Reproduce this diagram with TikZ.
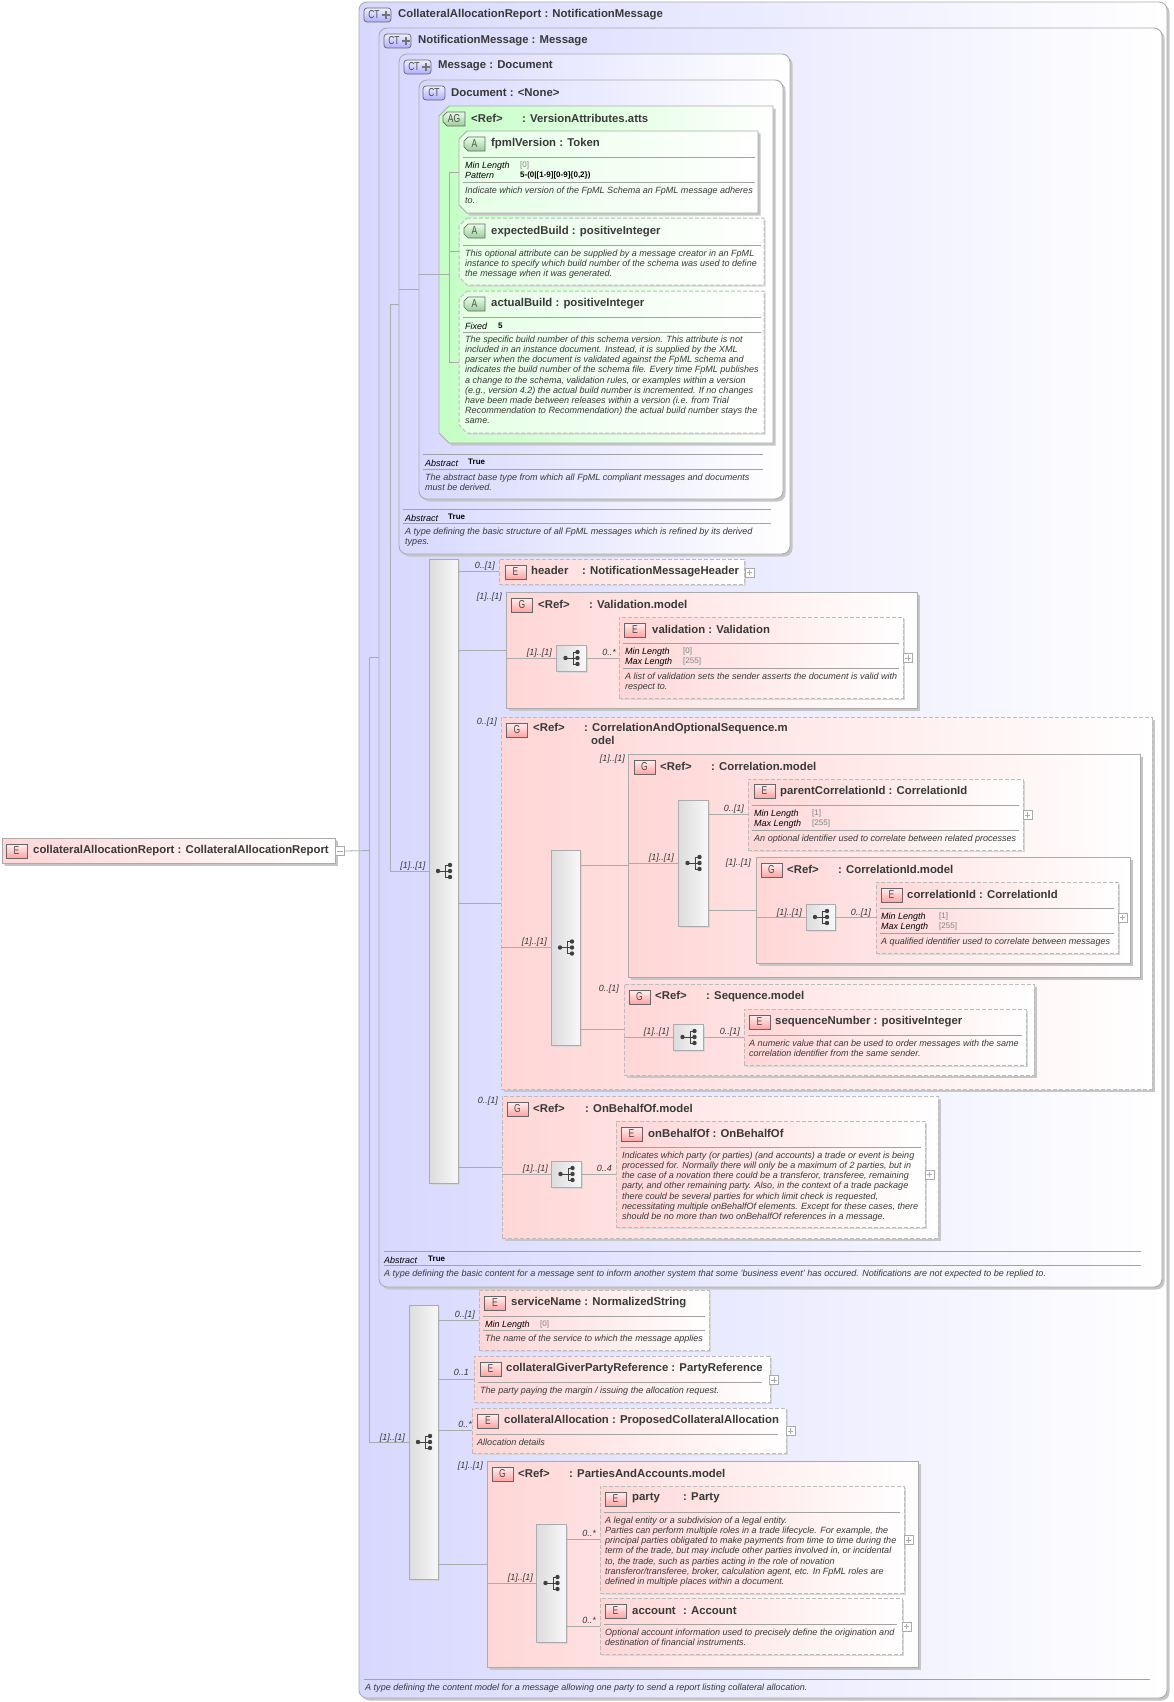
\documentclass[tikz,border=0pt]{standalone}
\usepackage{fontspec}
\setmainfont{Liberation Sans}
\newfontfamily\iconfont[FakeStretch=0.74]{Liberation Sans}
\usetikzlibrary{shadows,calc}

\definecolor{ctL}{HTML}{D8D8FF}
\definecolor{agL}{HTML}{C4FFC4}
\definecolor{elL}{HTML}{FFD6D6}
\definecolor{barL}{HTML}{DCDCDC}
\definecolor{edge}{HTML}{ABABAB}
\definecolor{shade}{HTML}{C6C6C6}
\definecolor{ink}{HTML}{383838}

\tikzset{
	solidshadow/.style={general shadow={fill=shade, shadow xshift=2.5pt, shadow yshift=-2.5pt}},
	softshadow/.style={general shadow={fill=shade!70, shadow xshift=1.5pt, shadow yshift=-1.5pt}},
	base/.style={draw=edge, line width=0.9pt},
	ctbox/.style={base, inner sep=0pt, outer sep=0pt, rectangle, rounded corners=8pt, left color=ctL, right color=white, solidshadow},
	agbox/.style={base, left color=agL, right color=white, solidshadow},
	abox/.style={base, left color=agL!45, right color=white, softshadow},
	grpbox/.style={base, inner sep=0pt, outer sep=0pt, rectangle, left color=elL, right color=white, solidshadow},
	elbox/.style={base, inner sep=0pt, outer sep=0pt, rectangle, left color=elL, right color=white, softshadow},
	optional/.style={draw=edge!80, line width=1pt, dash pattern=on 4pt off 2pt},
	barbox/.style={base, inner sep=0pt, outer sep=0pt, rectangle, left color=barL, right color=white!97!black, softshadow},
	conn/.style={draw=edge, line width=0.8pt},
	rule/.style={draw=edge!95!black, line width=0.8pt},
	icon/.style={inner sep=0pt, outer sep=0pt, draw=black!60, line width=0.7pt, minimum height=14pt, text=black!70, font=\fontsize{11.5}{12}\iconfont},
	iconE/.style={icon, rectangle, minimum width=21pt, top color=elL!35, bottom color=red!36},
	iconCT/.style={icon, rectangle, rounded corners=3pt, minimum width=#1, top color=ctL!40, bottom color=blue!32},
	iconA/.style={draw=black!60, line width=0.7pt, top color=agL!40, bottom color=green!50!black!40},
	ttl/.style={anchor=west, inner sep=0pt, yshift=-1.2pt, text=ink, font=\fontsize{11.35}{13}\selectfont\bfseries},
	dsc/.style={anchor=north west, inner sep=0pt, yshift=-1.7pt, align=left, text=ink, font=\fontsize{9.03}{10.15}\selectfont\itshape},
	prop/.style={anchor=west, inner sep=0pt, yshift=-0.8pt, text=black, font=\fontsize{9}{10}\selectfont\itshape},
	valgray/.style={anchor=west, inner sep=0pt, yshift=-0.8pt, text=black!50, font=\fontsize{8}{10}\selectfont},
	valbold/.style={anchor=west, inner sep=0pt, yshift=-0.8pt, text=black, font=\fontsize{8}{10}\selectfont\bfseries},
	card/.style={anchor=east, inner sep=0pt, yshift=-0.8pt, text=ink, font=\fontsize{9}{10}\selectfont\itshape},
	plusbox/.style={inner sep=0pt, outer sep=0pt, rectangle, draw=edge, fill=white, line width=0.7pt, minimum size=9pt},
	seqmark/.pic={
		\draw[black!75, line width=1pt] (-5.5,0) -- (2,0) (6.5,-6) -- (2,-6) -- (2,6) -- (6.5,6) (2,0) -- (6.5,0);
		\fill[black!75] (-5.5,0) circle (2.2) (6.5,-6) circle (2.2) (6.5,0) circle (2.2) (6.5,6) circle (2.2);
	},
}

\newcommand{\schemabox}[6]{\node[#1, minimum width={#5pt-#3pt}, minimum height={#6pt-#4pt}] (#2) at ({(#3+#5)/2},{(#4+#6)/2}) {};}
\newcommand{\chamferbox}[8]{\draw[#1] ({#3+#7},#4) -- (#5,#4) -- (#5,#6) -- ({#3+#7},#6) -- (#3,{#6-#7}) -- (#3,{#4+#7}) -- cycle;
	\node[inner sep=0pt, outer sep=0pt, minimum width={#5pt-#3pt}, minimum height={#6pt-#4pt}, text=black!70, font=\fontsize{11.5}{12}\iconfont] (#2) at ({(#3+#5)/2},{(#4+#6)/2}) {#8};}
\newcommand{\expander}[3]{\node[plusbox] (#1) at (#2,#3) {}; \draw[edge, line width=0.7pt] ($(#1.center)+(-2.6,0)$) -- ($(#1.center)+(2.6,0)$) ($(#1.center)+(0,-2.6)$) -- ($(#1.center)+(0,2.6)$);}
\newcommand{\ctplus}[1]{\draw[black!55, line width=2pt] ($(#1.center)+(8.5,-3.8)$) -- ($(#1.center)+(8.5,3.8)$) ($(#1.center)+(4.7,0)$) -- ($(#1.center)+(12.3,0)$);}

\begin{document}
\begin{tikzpicture}[x=1pt,y=-1pt]
	\useasboundingbox (0,0) rectangle (1173,1702);

	\schemabox{elbox,solidshadow}{root}{2}{838}{335}{863}
	\node[iconE] (rooticon) at (16.5,851) {E};
	\node[ttl] (roottitle) at (33,849.5) {collateralAllocationReport : CollateralAllocationReport};
	\node[plusbox] (rootminus) at (340,851) {};
	\draw[edge, line width=0.7pt] ($(rootminus.center)+(-2.6,0)$) -- ($(rootminus.center)+(2.6,0)$);

	\schemabox{ctbox}{rpt}{359}{2}{1167}{1698}
	\node[iconCT=27pt, anchor=center] (rpticon) at (377.5,15) {\hspace*{-7pt}CT};
	\ctplus{rpticon}
	\node[ttl] (rpttitle) at (398,13) {CollateralAllocationReport : NotificationMessage};

	\schemabox{ctbox}{notif}{379}{28}{1162}{1287}
	\node[iconCT=27pt] (notificon) at (397.5,41) {\hspace*{-7pt}CT};
	\ctplus{notificon}
	\node[ttl] (notiftitle) at (418,39) {NotificationMessage : Message};

	\schemabox{ctbox}{msg}{399}{54}{790}{554}
	\node[iconCT=27pt] (msgicon) at (417.5,67) {\hspace*{-7pt}CT};
	\ctplus{msgicon}
	\node[ttl] (msgtitle) at (438,65) {Message : Document};

	\schemabox{ctbox}{doc}{419}{80}{783}{499}
	\node[iconCT=22pt] (docicon) at (434,93) {CT};
	\node[ttl] (doctitle) at (451,91) {Document : <None>};

	\chamferbox{agbox}{ag}{439}{106}{773}{443}{10}{}
	\chamferbox{iconA}{agicon}{443}{112}{465}{126}{4}{AG}
	\node[ttl] (agtitle) at (471,117) {\makebox[51pt][l]{<Ref>}: VersionAttributes.atts};

	\chamferbox{abox,solidshadow}{fpml}{459}{131}{758}{213}{8}{}
	\chamferbox{iconA}{fpmlicon}{464}{137}{485}{151}{4}{A}
	\node[ttl] (fpmltitle) at (491,142) {fpmlVersion : Token};
	\draw[rule] (463,157) -- (755,157);
	\node[prop] (fpmlp1) at (465,165) {Min Length};
	\node[valgray] (fpmlv1) at (520,165) {[0]};
	\node[prop] (fpmlp2) at (465,175) {Pattern};
	\node[valbold] (fpmlv2) at (520,175) {5-(0|[1-9][0-9]\{0,2\})};
	\draw[rule] (463,182) -- (755,182);
	\node[dsc] (fpmldsc) at (465,185) {Indicate which version of the FpML Schema an FpML message adheres\\to.};

	\chamferbox{abox,optional}{expb}{459}{218}{764}{285}{8}{}
	\chamferbox{iconA}{expbicon}{464}{224}{485}{238}{4}{A}
	\node[ttl] (expbtitle) at (491,230) {expectedBuild : positiveInteger};
	\draw[rule] (463,245) -- (761,245);
	\node[dsc] (expbdsc) at (465,248) {This optional attribute can be supplied by a message creator in an FpML\\instance to specify which build number of the schema was used to define\\the message when it was generated.};

	\chamferbox{abox,optional}{actb}{459}{291}{764}{433}{8}{}
	\chamferbox{iconA}{actbicon}{464}{297}{485}{311}{4}{A}
	\node[ttl] (actbtitle) at (491,302) {actualBuild : positiveInteger};
	\draw[rule] (463,317) -- (761,317);
	\node[prop] (actbp1) at (465,325) {Fixed};
	\node[valbold] (actbv1) at (498,324.5) {5};
	\draw[rule] (463,332) -- (761,332);
	\node[dsc] (actbdsc) at (465,334) {The specific build number of this schema version. This attribute is not\\included in an instance document. Instead, it is supplied by the XML\\parser when the document is validated against the FpML schema and\\indicates the build number of the schema file. Every time FpML publishes\\a change to the schema, validation rules, or examples within a version\\(e.g., version 4.2) the actual build number is incremented. If no changes\\have been made between releases within a version (i.e. from Trial\\Recommendation to Recommendation) the actual build number stays the\\same.};

	\draw[rule] (423,454) -- (763,454);
	\node[prop] (docp1) at (425,462) {Abstract};
	\node[valbold] (docv1) at (468,461) {True};
	\draw[rule] (423,469) -- (763,469);
	\node[dsc] (docdsc) at (425,472) {The abstract base type from which all FpML compliant messages and documents\\must be derived.};

	\draw[rule] (403,509) -- (771,509);
	\node[prop] (msgp1) at (405,517) {Abstract};
	\node[valbold] (msgv1) at (448,516) {True};
	\draw[rule] (403,523) -- (771,523);
	\node[dsc] (msgdsc) at (405,526) {A type defining the basic structure of all FpML messages which is refined by its derived\\types.};

	\draw[conn] (msg.west |- doc.west) -- (doc.west);
	\draw[conn] (doc.west |- ag.west) -- (ag.west);
	\coordinate (agj) at (449,274);
	\draw[conn] (ag.west) -- (agj |- ag.west);
	\draw[conn] (fpml.west) -- (agj |- fpml.west) -- (agj |- actb.west) -- (actb.west);
	\draw[conn] (agj |- expb.west) -- (expb.west);

	\schemabox{barbox}{bartwo}{429}{559}{458}{1183}
	\pic at (bartwo.center) {seqmark};
	\coordinate (notifj) at (390,304);
	\draw[conn] (msg.west) -- (notifj) -- (notifj |- bartwo.west) -- (bartwo.west);
	\node[card] (cardbartwo) at (425.5,865) {[1]..[1]};

	\schemabox{elbox,optional}{header}{499}{559}{744}{584}
	\node[iconE] (headericon) at (515.5,572) {E};
	\node[ttl] (headertitle) at (531,570) {\makebox[51pt][l]{header}: NotificationMessageHeader};
	\expander{headerplus}{749.5}{572.5}
	\draw[conn] (bartwo.east |- header.west) -- (header.west);
	\node[card] (cardheader) at (495,565) {0..[1]};

	\schemabox{grpbox}{valgroup}{506}{592}{917}{708}
	\node[iconE] (valgroupicon) at (522,605) {G};
	\node[ttl] (valgrouptitle) at (538,603) {\makebox[51pt][l]{<Ref>}: Validation.model};
	\draw[conn] (bartwo.east |- valgroup.west) -- (valgroup.west);
	\node[card] (cardvalgroup) at (502,596) {[1]..[1]};
	\schemabox{barbox}{barval}{556}{645}{586}{671}
	\pic at (barval.center) {seqmark};
	\draw[conn] (valgroup.west |- barval.west) -- (barval.west);
	\node[card] (cardbarval) at (552,652) {[1]..[1]};
	\schemabox{elbox,optional}{validation}{619}{617}{903}{698}
	\node[iconE] (validationicon) at (635,630) {E};
	\node[ttl] (validationtitle) at (652,628) {validation : Validation};
	\draw[rule] (623,643) -- (899,643);
	\node[prop] (validationp1) at (625,651) {Min Length};
	\node[valgray] (validationv1) at (683,650.5) {[0]};
	\node[prop] (validationp2) at (625,661) {Max Length};
	\node[valgray] (validationv2) at (683,660.5) {[255]};
	\draw[rule] (623,668) -- (899,668);
	\node[dsc] (validationdsc) at (625,671) {A list of validation sets the sender asserts the document is valid with\\respect to.};
	\draw[conn] (barval.east) -- (barval.east -| validation.west);
	\node[card] (cardvalidation) at (616,652) {0..*};
	\expander{validationplus}{908}{658}

	\schemabox{grpbox,optional}{coropt}{501}{717}{1152}{1089}
	\node[iconE] (coropticon) at (517,730) {G};
	\node[ttl, anchor=north west, align=left] (corrtitle) at (533,722) {\makebox[51pt][l]{<Ref>}: CorrelationAndOptionalSequence.m\\\hspace*{58pt}odel};
	\draw[conn] (bartwo.east |- coropt.west) -- (coropt.west);
	\node[card] (cardcoropt) at (497,721) {0..[1]};
	\schemabox{barbox}{barcor}{551}{850}{580}{1045}
	\pic at (barcor.center) {seqmark};
	\draw[conn] (coropt.west |- barcor.west) -- (barcor.west);
	\node[card] (cardbarcor) at (547,941) {[1]..[1]};

	\schemabox{grpbox}{corgroup}{628}{754}{1140}{977}
	\node[iconE] (corgroupicon) at (644.5,767) {G};
	\node[ttl] (corgrouptitle) at (660,765) {\makebox[51pt][l]{<Ref>}: Correlation.model};
	\draw[conn] (barcor.east |- corgroup.west) -- (corgroup.west);
	\node[card] (cardcorgroup) at (625,758) {[1]..[1]};
	\schemabox{barbox}{barpar}{678}{800}{708}{926}
	\pic at (barpar.center) {seqmark};
	\draw[conn] (corgroup.west |- barpar.west) -- (barpar.west);
	\node[card] (cardbarpar) at (674,857) {[1]..[1]};

	\schemabox{elbox,optional}{parent}{748}{779}{1023}{850}
	\node[iconE] (parenticon) at (764.5,791) {E};
	\node[ttl] (parenttitle) at (780,790) {parentCorrelationId : CorrelationId};
	\draw[rule] (752,805) -- (1019,805);
	\node[prop] (parentp1) at (754,813) {Min Length};
	\node[valgray] (parentv1) at (812,812.5) {[1]};
	\node[prop] (parentp2) at (754,823) {Max Length};
	\node[valgray] (parentv2) at (812,822.5) {[255]};
	\draw[rule] (752,830) -- (1019,830);
	\node[dsc] (parentdsc) at (754,833) {An optional identifier used to correlate between related processes};
	\draw[conn] (barpar.east |- parent.west) -- (parent.west);
	\node[card] (cardparent) at (744,808) {0..[1]};
	\expander{parentplus}{1027.5}{815}

	\schemabox{grpbox}{cidgroup}{756}{857}{1130}{963}
	\node[iconE] (cidgroupicon) at (771.5,870) {G};
	\node[ttl] (cidgrouptitle) at (787,868) {\makebox[51pt][l]{<Ref>}: CorrelationId.model};
	\draw[conn] (barpar.east |- cidgroup.west) -- (cidgroup.west);
	\node[card] (cardcidgroup) at (751,862) {[1]..[1]};
	\schemabox{barbox}{barcid}{806}{904}{835}{930}
	\pic at (barcid.center) {seqmark};
	\draw[conn] (cidgroup.west |- barcid.west) -- (barcid.west);
	\node[card] (cardbarcid) at (802,912) {[1]..[1]};
	\schemabox{elbox,optional}{corrid}{876}{882}{1118}{953}
	\node[iconE] (corridicon) at (891.5,895) {E};
	\node[ttl] (corridtitle) at (907,893) {correlationId : CorrelationId};
	\draw[rule] (880,908) -- (1114,908);
	\node[prop] (corridp1) at (881,916) {Min Length};
	\node[valgray] (corridv1) at (939,915.5) {[1]};
	\node[prop] (corridp2) at (881,926) {Max Length};
	\node[valgray] (corridv2) at (939,925.5) {[255]};
	\draw[rule] (880,933) -- (1114,933);
	\node[dsc] (corriddsc) at (881,936) {A qualified identifier used to correlate between messages};
	\draw[conn] (barcid.east) -- (barcid.east -| corrid.west);
	\node[card] (cardcorrid) at (871,912) {0..[1]};
	\expander{corridplus}{1122.5}{917.5}

	\schemabox{grpbox,optional}{seqgroup}{624}{984}{1034}{1075}
	\node[iconE] (seqgroupicon) at (639.5,997) {G};
	\node[ttl] (seqgrouptitle) at (655,995) {\makebox[51pt][l]{<Ref>}: Sequence.model};
	\draw[conn] (barcor.east |- seqgroup.west) -- (seqgroup.west);
	\node[card] (cardseqgroup) at (619,988) {0..[1]};
	\schemabox{barbox}{barseq}{673}{1024}{703}{1050}
	\pic at (barseq.center) {seqmark};
	\draw[conn] (seqgroup.west |- barseq.west) -- (barseq.west);
	\node[card] (cardbarseq) at (669,1031) {[1]..[1]};
	\schemabox{elbox,optional}{seqnum}{744}{1009}{1026}{1065}
	\node[iconE] (seqnumicon) at (759.5,1022) {E};
	\node[ttl] (seqnumtitle) at (775,1020) {sequenceNumber : positiveInteger};
	\draw[rule] (748,1035) -- (1022,1035);
	\node[dsc] (seqnumdsc) at (749,1038) {A numeric value that can be used to order messages with the same\\correlation identifier from the same sender.};
	\draw[conn] (barseq.east) -- (barseq.east -| seqnum.west);
	\node[card] (cardseqnum) at (740,1031) {0..[1]};

	\schemabox{grpbox,optional}{behgroup}{502}{1096}{938}{1238}
	\node[iconE] (behgroupicon) at (517.5,1109) {G};
	\node[ttl] (behgrouptitle) at (533,1107) {\makebox[52pt][l]{<Ref>}: OnBehalfOf.model};
	\draw[conn] (bartwo.east |- behgroup.west) -- (behgroup.west);
	\node[card] (cardbehgroup) at (498,1100) {0..[1]};
	\schemabox{barbox}{barbeh}{551}{1161}{581}{1187}
	\pic at (barbeh.center) {seqmark};
	\draw[conn] (behgroup.west |- barbeh.west) -- (barbeh.west);
	\node[card] (cardbarbeh) at (548,1168) {[1]..[1]};
	\schemabox{elbox,optional}{behalf}{616}{1121}{925}{1227}
	\node[iconE] (behalficon) at (631.5,1134) {E};
	\node[ttl] (behalftitle) at (648,1132) {onBehalfOf : OnBehalfOf};
	\draw[rule] (620,1147) -- (921,1147);
	\node[dsc] (behalfdsc) at (622,1150) {Indicates which party (or parties) (and accounts) a trade or event is being\\processed for. Normally there will only be a maximum of 2 parties, but in\\the case of a novation there could be a transferor, transferee, remaining\\party, and other remaining party. Also, in the context of a trade package\\there could be several parties for which limit check is requested,\\necessitating multiple onBehalfOf elements. Except for these cases, there\\should be no more than two onBehalfOf references in a message.};
	\draw[conn] (barbeh.east) -- (barbeh.east -| behalf.west);
	\node[card] (cardbehalf) at (612,1168) {0..4};
	\expander{behalfplus}{929.5}{1174.5}

	\draw[rule] (384,1251) -- (1141,1251);
	\node[prop] (notifp1) at (384,1259) {Abstract};
	\node[valbold] (notifv1) at (428,1258) {True};
	\draw[rule] (384,1265) -- (1141,1265);
	\node[dsc] (notifdsc) at (384,1268) {A type defining the basic content for a message sent to inform another system that some 'business event' has occured. Notifications are not expected to be replied to.};

	\schemabox{barbox}{barone}{409}{1305}{438}{1579}
	\pic at (barone.center) {seqmark};
	\coordinate (rootj) at (369,850.5);
	\draw[conn] (rootminus.east) -- (rootj);
	\draw[conn] (notif.west) -- (rootj |- notif.west) -- (rootj |- barone.west) -- (barone.west);
	\node[card] (cardbarone) at (405,1437) {[1]..[1]};

	\schemabox{elbox,optional}{service}{479}{1290}{709}{1350}
	\node[iconE] (serviceicon) at (495,1303) {E};
	\node[ttl] (servicetitle) at (511,1301) {serviceName : NormalizedString};
	\draw[rule] (483,1316) -- (705,1316);
	\node[prop] (servicep1) at (485,1324) {Min Length};
	\node[valgray] (servicev1) at (540,1323.5) {[0]};
	\draw[rule] (483,1330) -- (705,1330);
	\node[dsc] (servicedsc) at (485,1333) {The name of the service to which the message applies};
	\draw[conn] (barone.east |- service.west) -- (service.west);
	\node[card] (cardservice) at (475,1314) {0..[1]};

	\schemabox{elbox,optional}{giver}{474}{1356}{770}{1402}
	\node[iconE] (givericon) at (490.5,1369) {E};
	\node[ttl] (givertitle) at (506,1367) {collateralGiverPartyReference : PartyReference};
	\draw[rule] (478,1382) -- (762,1382);
	\node[dsc] (giverdsc) at (480,1385) {The party paying the margin / issuing the allocation request.};
	\draw[conn] (barone.east |- giver.west) -- (giver.west);
	\node[card] (cardgiver) at (469,1372) {0..1};
	\expander{giverplus}{774}{1380}

	\schemabox{elbox,optional}{alloc}{472}{1408}{786}{1453}
	\node[iconE] (allocicon) at (488,1421) {E};
	\node[ttl] (alloctitle) at (504,1419) {collateralAllocation : ProposedCollateralAllocation};
	\draw[rule] (476,1434) -- (778,1434);
	\node[dsc] (allocdsc) at (477,1437) {Allocation details};
	\draw[conn] (barone.east |- alloc.west) -- (alloc.west);
	\node[card] (cardalloc) at (472,1424) {0..*};
	\expander{allocplus}{790.5}{1431}

	\schemabox{grpbox}{pargroup}{487}{1461}{918}{1667}
	\node[iconE] (pargroupicon) at (502.5,1474) {G};
	\node[ttl] (pargrouptitle) at (518,1472) {\makebox[51pt][l]{<Ref>}: PartiesAndAccounts.model};
	\draw[conn] (barone.east |- pargroup.west) -- (pargroup.west);
	\node[card] (cardpargroup) at (483,1465) {[1]..[1]};
	\schemabox{barbox}{barpar2}{536}{1524}{566}{1642}
	\pic at (barpar2.center) {seqmark};
	\draw[conn] (pargroup.west |- barpar2.west) -- (barpar2.west);
	\node[card] (cardbarpar2) at (533,1577) {[1]..[1]};

	\schemabox{elbox,optional}{party}{600}{1486}{904}{1593}
	\node[iconE] (partyicon) at (615.5,1499) {E};
	\node[ttl] (partytitle) at (632,1497) {\makebox[51pt][l]{party}: Party};
	\draw[rule] (604,1512) -- (900,1512);
	\node[dsc] (partydsc) at (605,1515) {A legal entity or a subdivision of a legal entity.\\Parties can perform multiple roles in a trade lifecycle. For example, the\\principal parties obligated to make payments from time to time during the\\term of the trade, but may include other parties involved in, or incidental\\to, the trade, such as parties acting in the role of novation\\transferor/transferee, broker, calculation agent, etc. In FpML roles are\\defined in multiple places within a document.};
	\draw[conn] (barpar2.east |- party.west) -- (party.west);
	\node[card] (cardparty) at (596,1533) {0..*};
	\expander{partyplus}{908.5}{1540}

	\schemabox{elbox,optional}{account}{600}{1598}{902}{1654}
	\node[iconE] (accounticon) at (615.5,1611) {E};
	\node[ttl] (accounttitle) at (632,1609) {\makebox[51pt][l]{account}: Account};
	\draw[rule] (604,1624) -- (897,1624);
	\node[dsc] (accountdsc) at (605,1627) {Optional account information used to precisely define the origination and\\destination of financial instruments.};
	\draw[conn] (barpar2.east |- account.west) -- (account.west);
	\node[card] (cardaccount) at (596,1620) {0..*};
	\expander{accountplus}{906.5}{1626.5}

	\draw[rule] (364,1679) -- (1150,1679);
	\node[dsc] (rptdsc) at (365,1682) {A type defining the content model for a message allowing one party to send a report listing collateral allocation.};
\end{tikzpicture}
\end{document}
